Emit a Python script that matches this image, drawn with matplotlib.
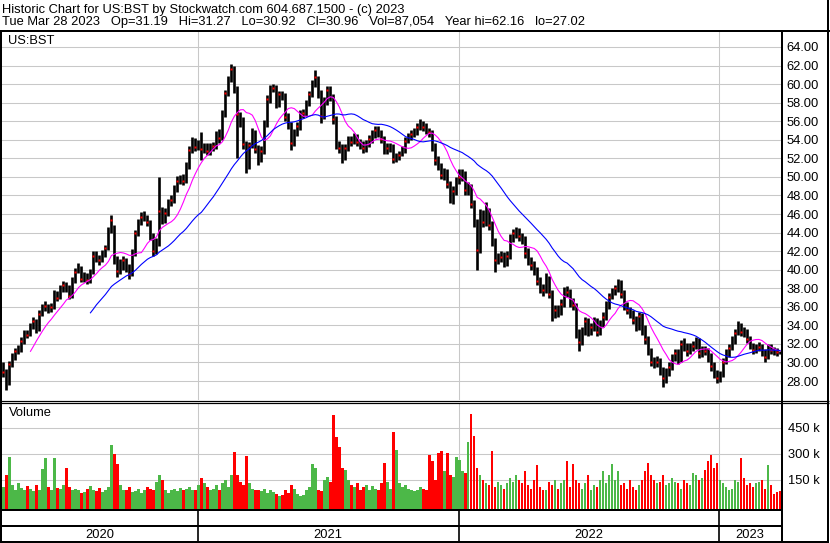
import numpy as np
import pandas as pd
import matplotlib
matplotlib.use("Agg")
import matplotlib.pyplot as plt
from matplotlib.lines import Line2D

W, H = 830, 543
FONT = "Liberation Sans"

# price samples, every 3rd trading day
closes = [
    29.0, 27.8, 29.8, 30.6, 31.2, 31.4, 32.3, 33.1, 33.0, 33.8,
    34.5, 33.6, 35.2, 35.8, 36.1, 35.7, 36.0, 37.4, 37.0, 37.9,
    38.3, 38.0, 37.2, 38.8, 39.8, 40.2, 39.0, 39.4, 38.9, 39.7,
    41.5, 41.2, 41.0, 41.7, 42.3, 44.2, 45.3, 41.0, 39.9, 40.4,
    41.0, 40.1, 39.5, 41.8, 43.9, 45.1, 45.7, 45.8, 45.1, 43.6,
    42.0, 42.8, 46.3, 45.3, 46.1, 47.2, 47.5, 48.7, 49.6, 49.8,
    49.6, 51.2, 52.9, 53.8, 53.2, 53.6, 53.0, 53.3, 52.8, 53.2,
    53.3, 54.4, 54.2, 56.8, 59.0, 60.5, 61.6, 59.5, 56.8, 56.2,
    53.5, 51.2, 53.4, 54.8, 53.0, 51.9, 52.8, 55.7, 58.4, 59.5,
    59.6, 57.8, 58.9, 58.8, 56.5, 55.7, 53.6, 54.8, 55.5, 56.8,
    56.9, 57.9, 58.9, 60.0, 60.8, 59.0, 56.6, 58.2, 59.4, 58.6,
    56.2, 53.5, 53.1, 52.1, 53.1, 54.0, 53.8, 54.3, 53.8, 53.5,
    53.1, 53.6, 54.1, 54.6, 55.1, 54.8, 54.1, 52.9, 53.1, 53.2,
    51.9, 52.1, 52.4, 52.9, 53.9, 54.3, 54.6, 54.8, 55.4, 55.8,
    55.4, 55.0, 54.8, 53.2, 51.8, 51.2, 50.2, 50.4, 49.2, 47.6,
    48.5, 49.6, 50.0, 50.4, 48.6, 48.9, 47.1, 45.1, 42.1, 45.8,
    45.1, 46.2, 44.8, 43.0, 41.0, 41.3, 41.4, 40.8, 41.5, 43.4,
    43.9, 44.0, 43.6, 43.3, 41.8, 41.0, 40.5, 39.9, 38.8, 38.0,
    37.8, 39.1, 37.4, 35.2, 35.7, 35.4, 36.3, 37.7, 37.6, 36.5,
    36.2, 33.0, 32.2, 33.3, 34.5, 33.3, 33.8, 34.5, 33.3, 34.2,
    34.9, 36.2, 37.1, 37.6, 38.0, 38.6, 37.4, 36.1, 35.7, 35.2,
    34.6, 33.9, 35.0, 33.5, 32.5, 31.2, 30.1, 29.9, 30.1, 29.2,
    28.3, 28.9, 29.5, 30.5, 31.0, 30.3, 32.0, 31.7, 31.2, 31.7,
    31.8, 32.2, 31.0, 31.4, 31.2, 30.6, 29.6, 28.8, 28.3, 28.6,
    30.1, 30.9, 31.6, 32.3, 33.2, 33.9, 33.3, 33.2, 32.5, 31.8,
    31.3, 31.6, 31.7, 31.1, 30.6, 31.6, 31.3, 31.2, 31.1, 30.96,
]
highs = [
    30.0, 29.3, 30.2, 31.0, 31.6, 31.9, 32.7, 33.5, 33.5, 34.2,
    34.9, 34.7, 35.6, 36.3, 36.6, 36.3, 36.4, 37.8, 37.7, 38.3,
    38.8, 38.7, 38.3, 39.2, 40.2, 40.7, 40.4, 39.8, 39.6, 40.1,
    42.0, 42.0, 41.6, 42.1, 42.7, 44.6, 45.9, 44.8, 41.5, 41.1,
    41.5, 41.3, 40.6, 42.2, 44.3, 45.5, 46.2, 46.3, 45.9, 45.3,
    43.9, 43.4, 50.0, 46.8, 46.6, 47.6, 48.0, 49.1, 50.1, 50.2,
    50.3, 51.6, 53.3, 54.3, 54.2, 54.0, 54.8, 53.7, 53.6, 53.7,
    53.8, 54.9, 55.2, 57.2, 59.4, 60.9, 62.16, 61.9, 59.8, 57.0,
    56.5, 53.9, 53.8, 55.3, 55.0, 53.4, 53.3, 56.1, 58.8, 59.9,
    60.0, 59.9, 59.3, 59.3, 59.0, 56.9, 55.9, 55.2, 55.9, 57.2,
    57.3, 58.3, 59.3, 60.4, 61.5, 60.9, 59.4, 58.6, 59.8, 59.8,
    58.9, 56.6, 53.9, 53.5, 53.5, 54.4, 54.4, 54.7, 54.6, 54.1,
    53.9, 54.0, 54.5, 55.0, 55.5, 55.5, 55.1, 54.4, 53.6, 53.6,
    53.5, 52.6, 52.8, 53.3, 54.3, 54.7, 55.0, 55.3, 55.8, 56.2,
    56.0, 55.8, 55.3, 55.0, 53.6, 52.2, 51.5, 51.0, 50.8, 49.6,
    49.0, 50.0, 50.8, 50.9, 50.6, 49.4, 49.2, 47.5, 45.5, 46.5,
    46.4, 47.3, 46.6, 45.2, 43.4, 41.8, 42.0, 41.9, 42.0, 43.8,
    44.4, 44.6, 44.5, 44.0, 43.6, 42.3, 41.4, 40.9, 40.3, 39.2,
    38.5, 39.6, 39.3, 37.8, 36.2, 36.2, 36.8, 38.1, 38.2, 37.9,
    37.0, 36.4, 33.6, 33.8, 34.9, 34.8, 34.2, 34.9, 34.8, 34.6,
    35.4, 36.6, 37.5, 38.0, 38.4, 39.0, 38.9, 37.8, 36.5, 36.0,
    35.6, 35.0, 35.4, 35.3, 34.0, 32.9, 31.6, 30.6, 30.7, 30.5,
    29.5, 29.4, 30.0, 30.9, 31.5, 31.4, 32.4, 32.6, 32.1, 32.1,
    32.3, 32.7, 32.6, 31.8, 31.8, 31.6, 31.0, 30.0, 29.2, 29.1,
    30.5, 31.4, 32.0, 32.8, 33.6, 34.5, 34.2, 33.8, 33.6, 32.9,
    32.1, 32.0, 32.2, 32.0, 31.5, 32.0, 32.0, 31.7, 31.6, 31.27,
]
lows = [
    28.4, 27.0, 27.6, 29.5, 30.3, 30.9, 31.1, 32.0, 32.6, 32.8,
    33.6, 33.2, 33.4, 35.0, 35.5, 35.3, 35.4, 35.8, 36.6, 36.8,
    37.6, 37.6, 36.8, 37.0, 38.6, 39.6, 38.7, 38.7, 38.5, 38.6,
    39.5, 40.8, 40.5, 40.8, 41.4, 42.1, 44.0, 40.6, 39.2, 39.5,
    40.0, 39.8, 39.0, 39.3, 41.5, 43.6, 44.8, 45.2, 44.7, 43.2,
    41.5, 41.7, 42.5, 44.9, 45.0, 45.8, 46.9, 47.2, 48.4, 49.2,
    49.1, 49.3, 50.9, 52.6, 52.8, 52.9, 51.8, 52.6, 52.4, 52.4,
    52.8, 53.0, 53.7, 54.0, 56.5, 58.7, 60.2, 59.0, 52.0, 55.4,
    53.0, 50.4, 50.9, 53.1, 52.6, 51.3, 51.6, 52.5, 55.4, 58.0,
    59.1, 57.4, 57.5, 58.3, 56.0, 55.2, 52.9, 53.3, 54.4, 55.1,
    56.4, 56.6, 57.6, 58.6, 59.7, 58.5, 55.8, 56.2, 57.8, 58.2,
    55.7, 53.0, 52.6, 51.5, 51.8, 52.8, 53.3, 53.5, 53.3, 53.0,
    52.6, 52.7, 53.2, 53.7, 54.2, 54.3, 53.6, 52.5, 52.5, 52.7,
    51.5, 51.6, 51.8, 52.2, 52.6, 53.6, 54.0, 54.3, 54.5, 55.1,
    54.9, 54.6, 54.3, 52.8, 51.3, 50.7, 49.8, 49.7, 48.8, 47.2,
    47.1, 48.1, 49.2, 49.6, 48.1, 48.1, 46.7, 44.6, 40.0, 41.8,
    44.6, 44.7, 44.3, 42.5, 39.8, 40.6, 40.8, 40.3, 40.4, 41.1,
    43.0, 43.4, 43.1, 42.8, 41.3, 40.5, 40.0, 39.4, 38.3, 37.5,
    37.2, 37.5, 36.9, 34.5, 34.8, 34.9, 35.1, 36.0, 37.1, 36.0,
    35.7, 32.6, 31.2, 31.9, 33.0, 32.9, 33.0, 33.4, 32.9, 33.0,
    33.8, 34.6, 35.8, 36.8, 37.3, 37.6, 37.0, 35.7, 35.2, 34.8,
    34.1, 33.4, 33.5, 33.0, 32.0, 30.8, 29.6, 29.4, 29.5, 28.7,
    27.3, 27.8, 28.5, 29.2, 30.2, 29.8, 30.0, 31.2, 30.7, 30.9,
    31.2, 31.4, 30.5, 30.6, 30.8, 30.1, 29.1, 28.3, 27.8, 27.9,
    28.4, 29.8, 30.6, 31.3, 32.0, 33.0, 32.9, 32.7, 32.1, 31.4,
    30.9, 31.0, 31.2, 30.7, 30.1, 30.4, 30.9, 30.8, 30.7, 30.92,
]
# volume in thousands
volumes = [
    110, 180, 283, 120, 95, 130, 105, 90, 115, 100,
    85, 120, 95, 213, 277, 110, 90, 275, 105, 100,
    120, 219, 110, 95, 100, 90, 75, 80, 100, 115,
    90, 85, 105, 80, 95, 110, 352, 300, 240, 120,
    95, 90, 110, 80, 85, 100, 75, 90, 110, 100,
    95, 140, 180, 150, 95, 75, 90, 100, 85, 105,
    90, 100, 110, 95, 90, 120, 161, 130, 110, 95,
    100, 120, 90, 130, 150, 110, 180, 312, 180, 140,
    120, 288, 130, 100, 95, 90, 85, 100, 75, 90,
    80, 70, 60, 65, 90, 75, 120, 100, 70, 60,
    65, 90, 110, 242, 219, 95, 85, 150, 170, 140,
    525, 398, 341, 220, 208, 150, 120, 110, 130, 95,
    110, 120, 90, 115, 100, 95, 130, 250, 140, 100,
    427, 323, 130, 110, 120, 100, 90, 85, 95, 110,
    100, 90, 294, 260, 150, 306, 318, 200, 306, 180,
    170, 283, 266, 200, 190, 370, 531, 405, 220, 180,
    150, 130, 120, 318, 110, 140, 120, 100, 130, 160,
    140, 180, 150, 130, 200, 120, 100, 150, 237, 110,
    90, 90, 140, 120, 150, 100, 130, 150, 260, 110,
    240, 150, 130, 100, 130, 180, 90, 120, 110, 150,
    200, 130, 180, 243, 150, 200, 120, 130, 100, 150,
    110, 90, 120, 150, 200, 250, 180, 150, 130, 140,
    180, 120, 130, 160, 140, 130, 100, 150, 130, 120,
    190, 180, 150, 160, 210, 260, 294, 220, 250, 150,
    130, 110, 90, 100, 150, 140, 277, 160, 120, 130,
    110, 130, 140, 150, 100, 237, 120, 70, 80, 87,
]
price_ticks = [28, 30, 32, 34, 36, 38, 40, 42, 44, 46, 48, 50, 52, 54, 56, 58, 60, 62, 64]
vol_ticks = [150, 300, 450]
header1 = "Historic Chart for US:BST by Stockwatch.com 604.687.1500 - (c) 2023"
header2 = ("Tue Mar 28 2023   Op=31.19   Hi=31.27   Lo=30.92   Cl=30.96   "
           "Vol=87,054   Year hi=62.16   lo=27.02")

days = pd.bdate_range("2020-03-30", "2023-03-28")
n = len(closes)
pos = np.arange(len(days))[::-1][::3][::-1][-n:]
yrs = np.asarray(days.year)
bounds = [i - 0.5 for i in range(1, len(days)) if yrs[i] != yrs[i - 1]]
XL = (2.5, 782.0)

c = np.array(closes)
prev = np.r_[c[0] - 0.1, c[:-1]]
vcol = np.where(c > prev, "#4cb848", np.where(c < prev, "#ff0000", "#a0a0a0"))
ma_fast = pd.Series(closes).rolling(10).mean()
ma_slow = pd.Series(closes).rolling(30).mean()
FS = 9.3


def fx(x):
    return x / W


def fy(y):
    return 1 - y / H


fig = plt.figure(figsize=(W / 100, H / 100), dpi=100, facecolor="white")

# price panel
ax = fig.add_axes([fx(2), fy(400), fx(781) - fx(2), fy(32) - fy(400)])
ax.set_xlim(*XL)
ax.set_ylim(28 - 19 / 9.28, 64 + 15 / 9.28)
ax.set_yticks(price_ticks)
ax.set_yticklabels(["%.2f" % t for t in price_ticks], fontsize=FS, family=FONT)
ax.yaxis.tick_right()
ax.tick_params(axis="y", length=0, pad=4)
ax.set_xticks([])
ax.grid(axis="y", color="#c8c8c8", lw=0.75)
for b in bounds:
    ax.axvline(b, color="#c8c8c8", lw=0.75, zorder=0)
for s in ax.spines.values():
    s.set_visible(False)
ax.set_axisbelow(True)
ax.vlines(pos, lows, highs, color="black", lw=1.9, zorder=3)
ax.plot(pos[::2], c[::2], ls="none", marker="s", ms=1.5, mec="none", mfc="red", zorder=4)
ax.plot(pos, ma_fast, color="#ff00ff", lw=0.8, zorder=5)
ax.plot(pos, ma_slow, color="#0000ff", lw=0.8, zorder=5)

# volume panel
vlo = 150 - 29 * 150 / 26
vhi = 450 + 25 * 150 / 26
axv = fig.add_axes([fx(2), fy(509), fx(781) - fx(2), fy(403) - fy(509)])
axv.set_xlim(*XL)
axv.set_ylim(vlo, vhi)
axv.set_yticks(vol_ticks)
axv.set_yticklabels(["%d k" % t for t in vol_ticks], fontsize=FS, family=FONT)
axv.yaxis.tick_right()
axv.tick_params(axis="y", length=0, pad=5)
axv.set_xticks([])
axv.grid(axis="y", color="#c8c8c8", lw=0.75)
for b in bounds:
    axv.axvline(b, color="#c8c8c8", lw=0.75, zorder=0)
for s in axv.spines.values():
    s.set_visible(False)
axv.set_axisbelow(True)
v = np.array(volumes, dtype=float)
axv.bar(pos, v - vlo, bottom=vlo, width=2.6, color=vcol, lw=0, zorder=3)

# date strip
axd = fig.add_axes([fx(2), fy(541), fx(781) - fx(2), fy(510) - fy(541)])
axd.set_xlim(*XL)
axd.set_ylim(541, 510)
axd.axis("off")
for b in bounds:
    axd.plot([b, b], [510, 541], color="black", lw=1.2)
edges = [XL[0]] + bounds + [XL[1]]
for i in range(len(edges) - 1):
    axd.text((edges[i] + edges[i + 1]) / 2, 534.5, str(2020 + i), ha="center", va="center",
             fontsize=FS, family=FONT)


def pline(x0, y0, x1, y1, lw=2.0):
    fig.add_artist(Line2D([fx(x0), fx(x1)], [fy(y0), fy(y1)], transform=fig.transFigure,
                          color="black", lw=lw * 0.72, solid_capstyle="butt"))


pline(0, 31, 830, 31)
pline(1, 31, 1, 543)
pline(781.5, 31, 781.5, 542)
pline(828, 0, 828, 543)
pline(0, 400.5, 829, 400.5, 1.2)
pline(0, 402.8, 829, 402.8, 1.2)
pline(0, 510, 782, 510)
pline(0, 526, 782, 526)
pline(0, 541.5, 829, 541.5)

fig.text(fx(2), fy(9.5), header1, ha="left", va="center", fontsize=FS, family=FONT)
fig.text(fx(2), fy(22.5), header2, ha="left", va="center", fontsize=FS, family=FONT)
fig.text(fx(8), fy(41.5), "US:BST", ha="left", va="center", fontsize=FS, family=FONT)
fig.text(fx(9), fy(413.5), "Volume", ha="left", va="center", fontsize=FS, family=FONT)

fig.savefig("out.png", dpi=100, facecolor="white")
